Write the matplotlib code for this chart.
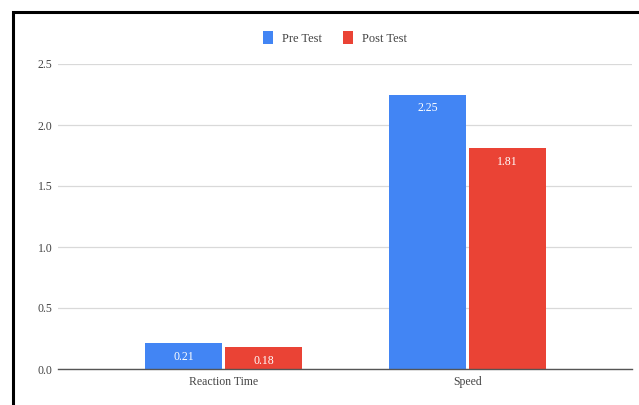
import matplotlib.pyplot as plt
import numpy as np
from matplotlib.patches import Rectangle

# dades
categories = ['Reaction Time', 'Speed']
pre_test = [0.21, 2.25]
post_test = [0.18, 1.81]
series_names = ['Pre Test', 'Post Test']

blue = '#4285F4'
red = '#EA4335'

plt.rcParams['font.family'] = ['Liberation Serif', 'DejaVu Serif']

fig = plt.figure(figsize=(6.39, 4.05), dpi=100)
ax = fig.add_axes([58/639, 36/405, (632-58)/639, 305/405])

x = np.arange(len(categories))
w = 0.316
off = 0.164
b1 = ax.bar(x - off, pre_test, w, color=blue, label=series_names[0], zorder=3)
b2 = ax.bar(x + off, post_test, w, color=red, label=series_names[1], zorder=3)

# etiquetes dins de les barres
for bars in (b1, b2):
    for b in bars:
        h = b.get_height()
        ax.annotate('{:.2f}'.format(h), (b.get_x() + b.get_width()/2, h),
                    xytext=(0, -10), textcoords='offset points',
                    ha='center', va='center', color='white', fontsize=8.5, zorder=4)

ax.set_xlim(-0.678, 1.674)
ax.set_ylim(0, 2.5)
ax.set_yticks([0, 0.5, 1.0, 1.5, 2.0, 2.5])
ax.set_yticklabels(['0.0', '0.5', '1.0', '1.5', '2.0', '2.5'])
ax.set_xticks(x)
ax.set_xticklabels(categories)
ax.tick_params(axis='both', length=0, labelsize=8.5, colors='#444444')
ax.tick_params(axis='y', pad=4)
ax.tick_params(axis='x', pad=5)
ax.grid(axis='y', color='#d9d9d9', linewidth=0.9, zorder=0)
for s in ['top', 'right', 'left']:
    ax.spines[s].set_visible(False)
ax.spines['bottom'].set_color('#555555')
ax.spines['bottom'].set_linewidth(1.0)
ax.spines['bottom'].set_zorder(5)

leg = fig.legend(loc='center', bbox_to_anchor=(335/639, 1 - 38/405), ncol=2, frameon=False,
                 fontsize=9, handlelength=0.8, handleheight=1.2, columnspacing=1.7,
                 handletextpad=0.7)
for t in leg.get_texts():
    t.set_color('#444444')

# marc negre
fig.patches.append(Rectangle((13/639, -0.05), 1.0, 1 - 12/405 + 0.05, transform=fig.transFigure,
                             fill=False, edgecolor='black', linewidth=2.2))

fig.savefig('out.png', dpi=100)
